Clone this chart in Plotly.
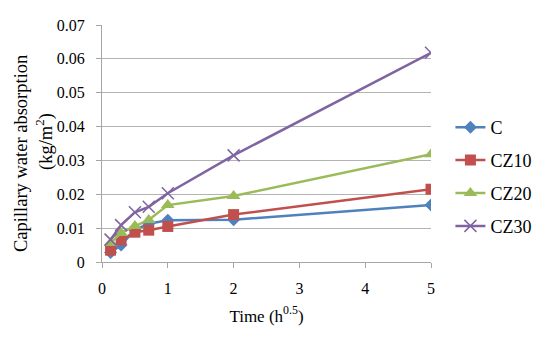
import plotly.graph_objects as go

time_x = [0.13, 0.29, 0.5, 0.71, 1.0, 2.0, 5.0]
series_names = ["C", "CZ10", "CZ20", "CZ30"]
c_vals = [0.0028, 0.0050, 0.0095, 0.0113, 0.0123, 0.0125, 0.0168]
cz10_vals = [0.0035, 0.0065, 0.0088, 0.0094, 0.0105, 0.0140, 0.0215]
cz20_vals = [0.0056, 0.0086, 0.0106, 0.0124, 0.0168, 0.0195, 0.0318]
cz30_vals = [0.0066, 0.0109, 0.0147, 0.0163, 0.0203, 0.0315, 0.0618]
y_ticks = [0, 0.01, 0.02, 0.03, 0.04, 0.05, 0.06, 0.07]
y_labels = ["0", "0.01", "0.02", "0.03", "0.04", "0.05", "0.06", "0.07"]
x_ticks = [0, 1, 2, 3, 4, 5]

colors = ["#4F81BD", "#C0504D", "#9BBB59", "#8064A2"]
symbols = ["diamond", "square", "triangle-up", "x-thin"]
sizes = [10, 11, 12, 12]
all_vals = [c_vals, cz10_vals, cz20_vals, cz30_vals]

FONT = "Liberation Serif"

# page has an 8px body margin; figure coords = page coords - 8
W, H = 542, 330
L, T = 94, 17
PW, PH = 329, 237
R = W - L - PW
B = H - T - PH

fig = go.Figure()
for i, (name, vals) in enumerate(zip(series_names, all_vals)):
    marker = dict(symbol=symbols[i], size=sizes[i], color=colors[i])
    if symbols[i] == "x-thin":
        marker["line"] = dict(color=colors[i], width=1.5)
    fig.add_trace(go.Scatter(
        x=time_x, y=vals, name=name, mode="lines+markers",
        line=dict(color=colors[i], width=2.5),
        marker=marker, legendgroup=name,
    ))

fig.update_layout(
    width=W, height=H,
    margin=dict(l=L, r=R, t=T, b=B, autoexpand=False),
    paper_bgcolor="white", plot_bgcolor="white",
    font=dict(family=FONT, size=16, color="black"),
    showlegend=True,
    legend=dict(x=1.059, y=0.6456, xanchor="left", yanchor="top",
                traceorder="grouped", tracegroupgap=6.5,
                font=dict(family=FONT, size=18, color="black"),
                bgcolor="rgba(0,0,0,0)"),
    xaxis=dict(range=[0, 5], tickvals=x_ticks, showgrid=False,
               showline=True, linecolor="#A6A6A6", linewidth=1,
               ticks="outside", ticklen=5, tickcolor="#A6A6A6",
               ticklabelstandoff=7,
               zeroline=False, tickfont=dict(family=FONT, size=16),
               title=dict(text="Time (h<sup>0.5</sup>)", standoff=13,
                          font=dict(family=FONT, size=17))),
    yaxis=dict(range=[0, 0.07], tickvals=y_ticks, ticktext=y_labels,
               showgrid=True, gridcolor="#B3B3B3", gridwidth=1,
               showline=True, linecolor="#A6A6A6", linewidth=1,
               ticks="outside", ticklen=5, tickcolor="#A6A6A6",
               ticklabelstandoff=8,
               zeroline=False, tickfont=dict(family=FONT, size=16)),
)

# y-axis title, two rotated lines (figure-pixel centres)
title_lines = ["Capillary water absorption", "(kg/m<sup>2</sup>)"]
line_centres = [(13, 146), (36, 134)]
for txt, (cx, cy) in zip(title_lines, line_centres):
    fig.add_annotation(
        text=txt, textangle=-90, x=(cx - L) / PW, y=(T + PH - cy) / PH,
        xref="paper", yref="paper", xanchor="center", yanchor="middle",
        showarrow=False, font=dict(family=FONT, size=18.5, color="black"),
    )

fig.write_html("out.html")
